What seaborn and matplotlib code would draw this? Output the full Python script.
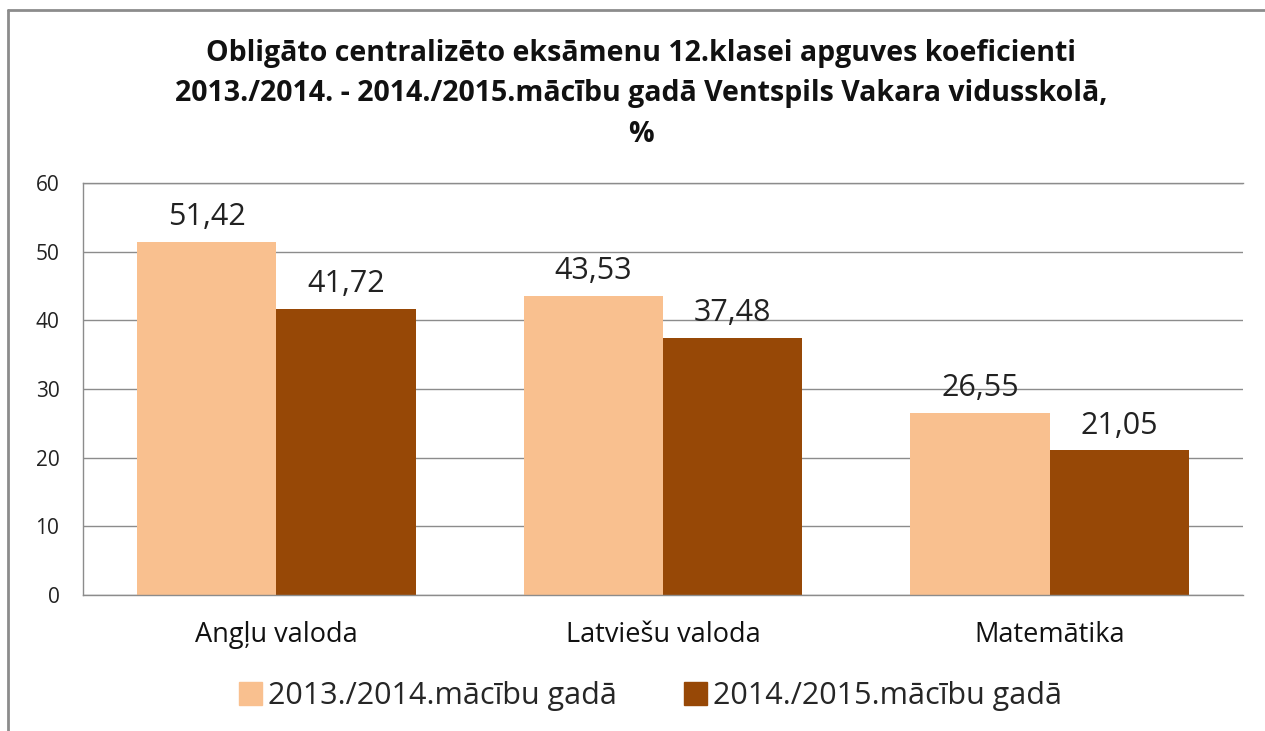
import pandas as pd
import seaborn as sns
import matplotlib.pyplot as plt
from matplotlib.lines import Line2D

prieksmeti = ['Angļu valoda', 'Latviešu valoda', 'Matemātika']
gadi = ['2013./2014.mācību gadā', '2014./2015.mācību gadā']
vertibas_2014 = [51.42, 43.53, 26.55]
vertibas_2015 = [41.72, 37.48, 21.05]
krasas = ['#F9C08F', '#974806']

df = pd.DataFrame({
    'prieksmets': prieksmeti * 2,
    'gads': [gadi[0]] * 3 + [gadi[1]] * 3,
    'vertiba': vertibas_2014 + vertibas_2015,
})

sns.set_style('white')
plt.rcParams['font.family'] = ['Open Sans', 'DejaVu Sans']

fig = plt.figure(figsize=(12.65, 7.31), dpi=100)
ax = fig.add_axes([83 / 1265, 1 - 595 / 731, 1160 / 1265, 412 / 731])

sns.barplot(data=df, x='prieksmets', y='vertiba', hue='gads', palette=krasas,
            width=0.72, saturation=1, ax=ax, legend=False, linewidth=0)

for cont in ax.containers:
    ax.bar_label(cont, labels=[f'{v:.2f}'.replace('.', ',') for v in cont.datavalues],
                 padding=7, fontsize=22, color='#222222')

ax.set_ylim(0, 60)
ax.set_xlim(-0.5, 2.5)
ax.set_yticks(range(0, 61, 10))
ax.yaxis.grid(True, color='#8c8c8c', linewidth=1)
ax.set_axisbelow(True)
for s in ax.spines.values():
    s.set_color('#8c8c8c')
    s.set_linewidth(1)
ax.spines['right'].set_visible(False)
ax.tick_params(axis='y', labelsize=15, colors='#222222', pad=17, length=0)
ax.tick_params(axis='x', labelsize=19.5, colors='#111111', pad=19, length=0)
ax.set_xlabel('')
ax.set_ylabel('')

fig.text(0.507, 1 - 94 / 731,
         'Obligāto centralizēto eksāmenu 12.klasei apguves koeficienti\n'
         '2013./2014. - 2014./2015.mācību gadā Ventspils Vakara vidusskolā,\n%',
         ha='center', va='center', fontsize=20.5, fontweight='bold',
         linespacing=1.5, color='#111111')

handles = [plt.Rectangle((0, 0), 1, 1, color=c) for c in krasas]
fig.legend(handles, gadi, loc='center', bbox_to_anchor=(0.514, 1 - 696 / 731),
           ncol=2, frameon=False, prop={'size': 22},
           handlelength=0.75, handleheight=0.75, handletextpad=0.2, columnspacing=2.2)

fig.add_artist(Line2D([8 / 1265, 8 / 1265], [0, 1 - 10 / 731], color='#8c8c8c',
                      linewidth=2, transform=fig.transFigure))
fig.add_artist(Line2D([8 / 1265, 1], [1 - 10 / 731, 1 - 10 / 731], color='#8c8c8c',
                      linewidth=2, transform=fig.transFigure))

fig.savefig('out.png', dpi=100)
